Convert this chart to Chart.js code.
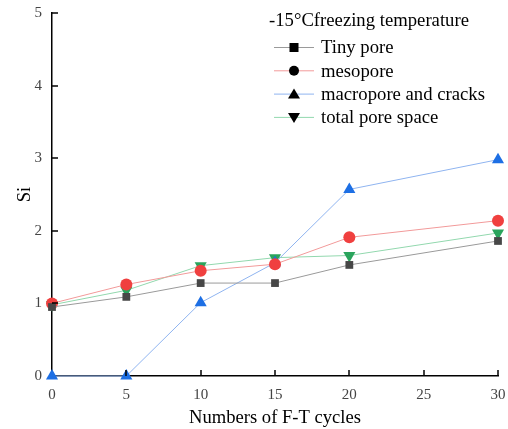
<!DOCTYPE html>
<html><head><meta charset="utf-8">
<script src="https://cdn.jsdelivr.net/npm/chart.js@4"></script>
<style>html,body{margin:0;padding:0;background:#fff;}#wrap{width:508px;height:429px;position:relative;}</style>
</head><body><div id="wrap"><canvas id="c" width="508" height="429"></canvas></div>
<script>
const cycles = [0, 5, 10, 15, 20, 30];
const tinyPore = [0.95, 1.09, 1.28, 1.28, 1.53, 1.86];
const mesopore = [1.00, 1.26, 1.45, 1.54, 1.91, 2.14];
const macropore = [0.00, 0.00, 1.01, 1.56, 2.57, 2.98];
const totalPore = [0.98, 1.18, 1.52, 1.63, 1.66, 1.97];
const seriesNames = ['Tiny pore', 'mesopore', 'macropore and cracks', 'total pore space'];
const legendTitle = '-15\u00B0Cfreezing temperature';
const xTitle = 'Numbers of F-T cycles';
const yTitle = 'Si';

const FONT = "'Liberation Serif', 'Times New Roman', serif";
const toXY = arr => arr.map((v, i) => ({x: cycles[i], y: v}));

const styles = [
  {line: '#9a9a9a', point: '#474747', shape: 'rect', r: 5.5},
  {line: '#f29a9a', point: '#f0403f', shape: 'circle', r: 6},
  {line: '#8fb4f0', point: '#1d6fe4', shape: 'triangle', r: 7},
  {line: '#92d8ae', point: '#2aa45c', shape: 'triangle', r: 7, rot: 180}
];
const datas = [tinyPore, mesopore, macropore, totalPore];

const inwardTicks = {
  id: 'inwardTicks',
  afterDraw(chart) {
    const ctx = chart.ctx, xs = chart.scales.x, ys = chart.scales.y, a = chart.chartArea;
    ctx.save();
    ctx.strokeStyle = '#000'; ctx.lineWidth = 1.5;
    for (let v = 5; v <= 30; v += 5) {
      const px = Math.round(xs.getPixelForValue(v)) ;
      ctx.beginPath(); ctx.moveTo(px, a.bottom); ctx.lineTo(px, a.bottom - 6); ctx.stroke();
    }
    for (let v = 1; v <= 5; v++) {
      const py = Math.round(ys.getPixelForValue(v));
      ctx.beginPath(); ctx.moveTo(a.left, py); ctx.lineTo(a.left + 6, py); ctx.stroke();
    }
    ctx.restore();
  }
};

const customLegend = {
  id: 'customLegend',
  afterDraw(chart) {
    const ctx = chart.ctx;
    ctx.save();
    ctx.fillStyle = '#000';
    ctx.font = '18.7px ' + FONT;
    ctx.textBaseline = 'middle';
    ctx.textAlign = 'left';
    ctx.fillText(legendTitle, 269, 21);
    const y0 = 47.5, dy = 23.3;
    seriesNames.forEach((name, i) => {
      const y = y0 + i * dy, s = styles[i];
      ctx.strokeStyle = s.line; ctx.lineWidth = 1;
      ctx.beginPath(); ctx.moveTo(274, y); ctx.lineTo(314, y); ctx.stroke();
      ctx.fillStyle = '#000';
      const cx = 294;
      ctx.beginPath();
      if (s.shape === 'rect') { ctx.rect(cx - 4.5, y - 4.5, 9, 9); }
      else if (s.shape === 'circle') { ctx.arc(cx, y, 5, 0, Math.PI * 2); }
      else if (!s.rot) { ctx.moveTo(cx, y - 5.5); ctx.lineTo(cx + 6, y + 4.5); ctx.lineTo(cx - 6, y + 4.5); ctx.closePath(); }
      else { ctx.moveTo(cx, y + 5.5); ctx.lineTo(cx + 6, y - 4.5); ctx.lineTo(cx - 6, y - 4.5); ctx.closePath(); }
      ctx.fill();
      ctx.fillText(name, 321, y + 1);
    });
    ctx.restore();
  }
};

new Chart(document.getElementById('c'), {
  type: 'line',
  data: {
    datasets: datas.map((d, i) => ({
      label: seriesNames[i],
      data: toXY(d),
      borderColor: styles[i].line,
      borderWidth: 1,
      backgroundColor: styles[i].point,
      pointBackgroundColor: styles[i].point,
      pointBorderColor: styles[i].point,
      pointStyle: styles[i].shape,
      pointRotation: styles[i].rot || 0,
      pointRadius: styles[i].r,
      pointBorderWidth: 0,
      tension: 0,
      clip: false
    }))
  },
  options: {
    responsive: false,
    animation: false,
    devicePixelRatio: 1,
    layout: {padding: {top: 13, right: 10, left: 0, bottom: 0}},
    plugins: {legend: {display: false}, tooltip: {enabled: false}},
    scales: {
      x: {
        type: 'linear', min: 0, max: 30,
        ticks: {stepSize: 5, color: '#444', font: {family: FONT, size: 15}, padding: 2},
        grid: {display: false},
        border: {display: true, color: '#000', width: 1.5},
        title: {display: true, text: xTitle, color: '#000', font: {family: FONT, size: 18.6}, padding: {top: 0, bottom: 0}},
        afterFit(s) { s.height = 53; }
      },
      y: {
        min: 0, max: 5,
        ticks: {stepSize: 1, color: '#444', font: {family: FONT, size: 15}, padding: 2},
        grid: {display: false},
        border: {display: true, color: '#000', width: 1.5},
        title: {display: true, text: yTitle, color: '#000', font: {family: FONT, size: 18.6}, padding: {top: 14, bottom: 0}},
        afterFit(s) { s.width = 52; }
      }
    }
  },
  plugins: [inwardTicks, customLegend]
});
</script></body></html>
